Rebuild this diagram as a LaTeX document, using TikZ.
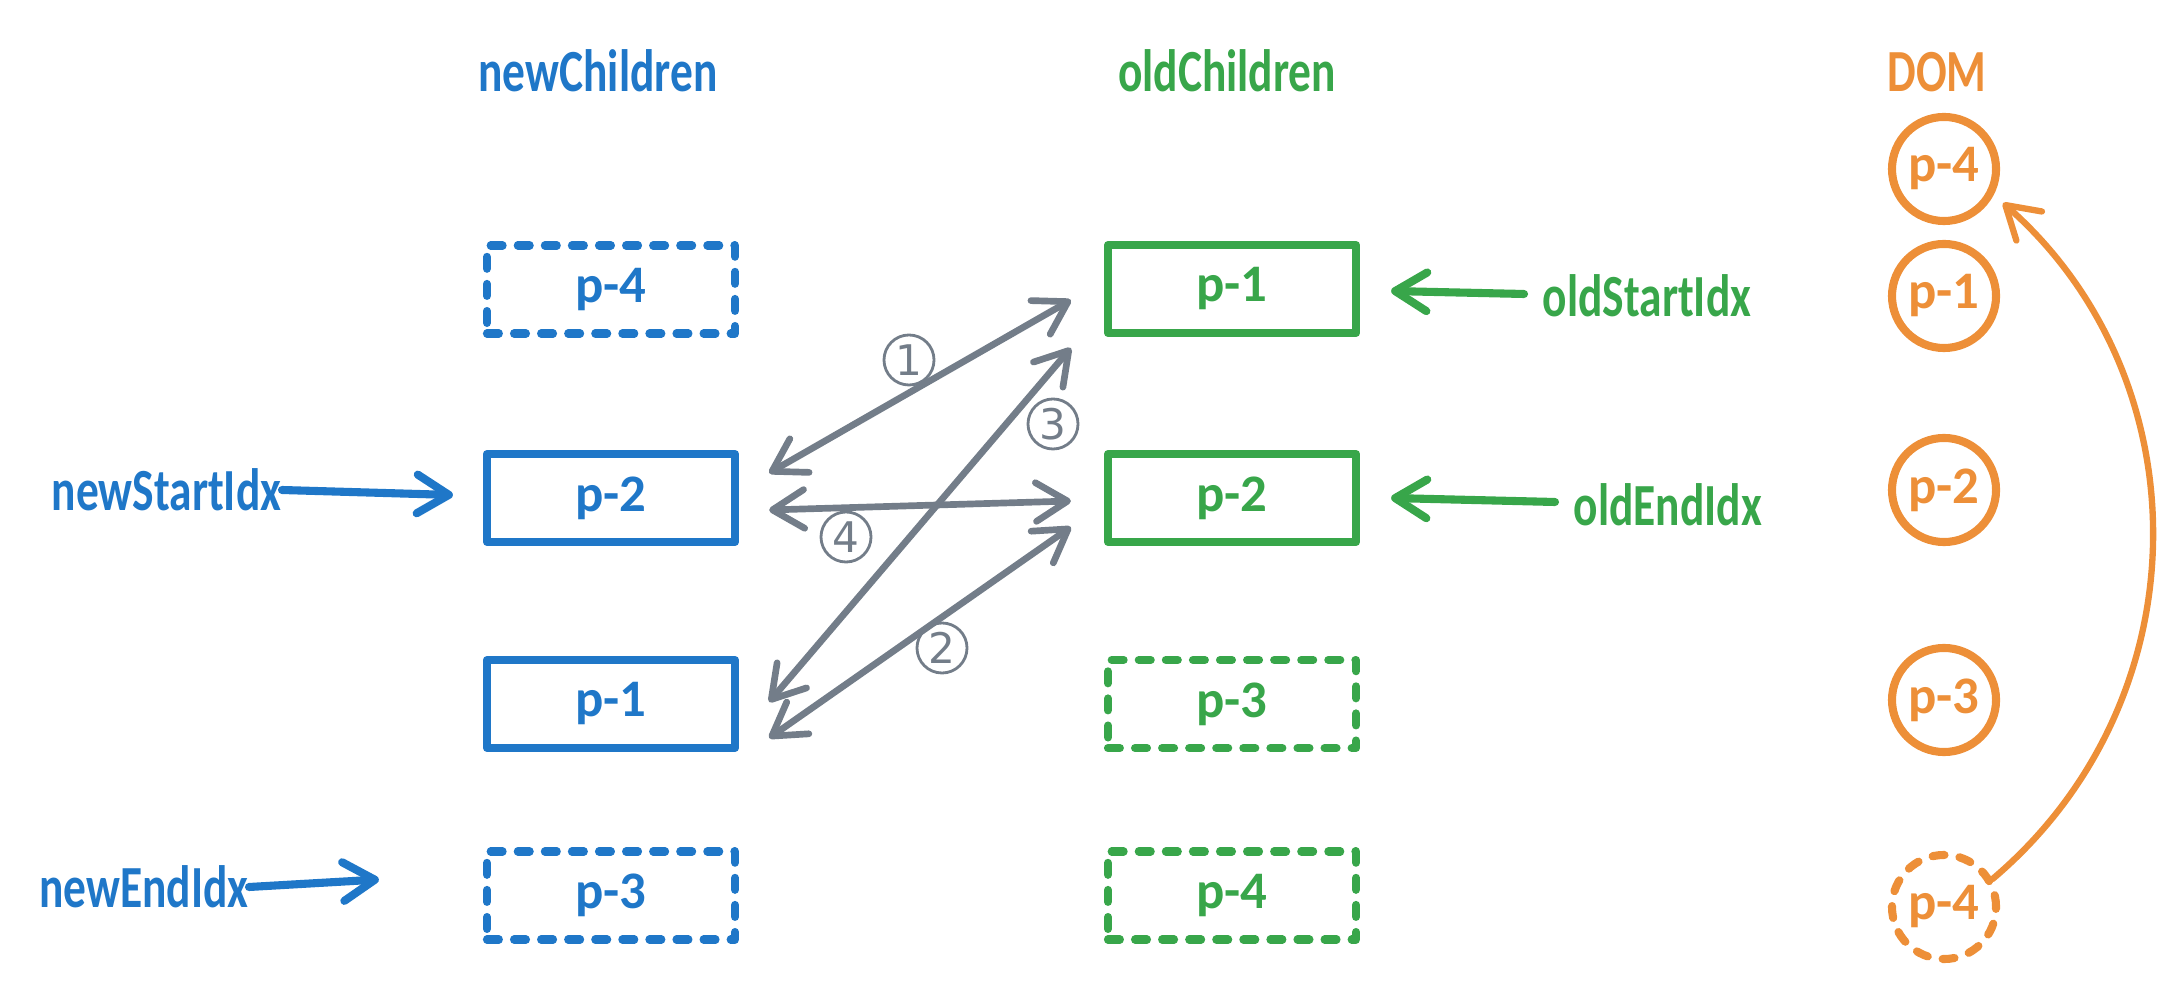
\documentclass[tikz,border=0pt]{standalone}
\usepackage{fontspec}
\setmainfont{Carlito}
\newfontfamily\hand[FakeStretch=0.76]{Carlito}
\newfontfamily\handw{Carlito}
\newfontfamily\numfont{DejaVu Sans}
\usetikzlibrary{arrows.meta,calc}
\definecolor{cblue}{RGB}{31,119,200}
\definecolor{cgreen}{RGB}{56,166,74}
\definecolor{corange}{RGB}{237,143,56}
\definecolor{cgray}{RGB}{115,125,137}
\begin{document}
\begin{tikzpicture}[x=0.01cm,y=-0.01cm,
  >={Straight Barb[length=9pt,width=11pt,round]},
  box/.style={draw, line width=2.3pt, line join=round, minimum width=2.48cm, minimum height=0.88cm, inner sep=0,
    font=\handw\bfseries\fontsize{15}{18}\selectfont},
  dbox/.style={box, dash pattern=on 3.4pt off 4.3pt, line cap=round},
  bluebox/.style={box, draw=cblue, text=cblue},
  greenbox/.style={box, draw=cgreen, text=cgreen},
  dom/.style={circle, draw=corange, text=corange, line width=2.3pt, minimum size=1.04cm, inner sep=0,
    font=\handw\bfseries\fontsize{15}{18}\selectfont},
  lbl/.style={inner sep=0, font=\hand\bfseries\fontsize{17}{20}\selectfont},
  num/.style={circle, draw=cgray, text=cgray, line width=0.8pt, minimum size=0.5cm, inner sep=0,
    font=\numfont\fontsize{12}{14}\selectfont},
  garrow/.style={draw=cgray, line width=1.9pt, line cap=round},
  iarrow/.style={line width=2.3pt, line cap=round}
]
\useasboundingbox (0,0) rectangle (2180,992);

% headers
\node[lbl, text=cblue] (nh) at (598,71) {newChildren};
\node[lbl, text=cgreen] (oh) at (1227,71) {oldChildren};
\node[lbl, text=corange] (dh) at (1937,72) {DOM};

% newChildren boxes
\node[bluebox, dbox] (nb1) at (611,289.5) {p-4};
\node[bluebox] (nb2) at (611,498) {p-2};
\node[bluebox] (nb3) at (611,704) {p-1};
\node[bluebox, dbox] (nb4) at (611,895.5) {p-3};

% oldChildren boxes
\node[greenbox] (ng1) at (1232,289) {p-1};
\node[greenbox] (ng2) at (1232,498) {p-2};
\node[greenbox, dbox] (ng3) at (1232,704) {p-3};
\node[greenbox, dbox] (ng4) at (1232,895.5) {p-4};

% DOM circles
\node[dom] (d1) at (1944,169) {p-4};
\node[dom] (d2) at (1944,296) {p-1};
\node[dom] (d3) at (1944,490) {p-2};
\node[dom] (d4) at (1944,700) {p-3};
\node[dom, dash pattern=on 3.4pt off 4.3pt, line cap=round] (d5) at (1944,907) {p-4};

% index labels
\node[lbl, text=cblue, anchor=east] (nsi) at (282,490) {newStartIdx};
\node[lbl, text=cblue, anchor=east] (nei) at (249,887) {newEndIdx};
\node[lbl, text=cgreen, anchor=west] (osi) at (1542,296) {oldStartIdx};
\node[lbl, text=cgreen, anchor=west] (oei) at (1573,505) {oldEndIdx};

\draw[iarrow, draw=cblue, ->] (nsi.east) -- ($(nb2.west)+(-30,-3)$);
\draw[iarrow, draw=cblue, ->] (nei.east) -- ($(nb4.west)+(-104,-16)$);
\draw[iarrow, draw=cgreen, ->] ($(osi.west)+(-18,-2)$) -- ($(ng1.east)+(31,2)$);
\draw[iarrow, draw=cgreen, ->] ($(oei.west)+(-18,-3)$) -- ($(ng2.east)+(31,0)$);

% comparison arrows
\draw[garrow, <->] ($(nb2.east)+(30,-25)$) -- ($(ng1.west)+(-33,11)$);
\draw[garrow, <->] ($(nb2.east)+(30,12)$) -- ($(ng2.west)+(-33,3)$);
\draw[garrow, <->] ($(nb3.east)+(30,-2)$) -- ($(ng1.west)+(-33,59)$);
\draw[garrow, <->] ($(nb3.east)+(30,34)$) -- ($(ng2.west)+(-33,29)$);

\node[num] (c1) at (909,360) {1};
\node[num] (c2) at (942,648) {2};
\node[num] (c3) at (1053,424) {3};
\node[num] (c4) at (846,537) {4};

% DOM move arrow
\coordinate (arcend) at ($(d1)+(59,34)$);
\draw[draw=corange, line width=1.8pt, line cap=round, ->] (d5.30) .. controls (2204,700) and (2204,380) .. (arcend);
\end{tikzpicture}
\end{document}
